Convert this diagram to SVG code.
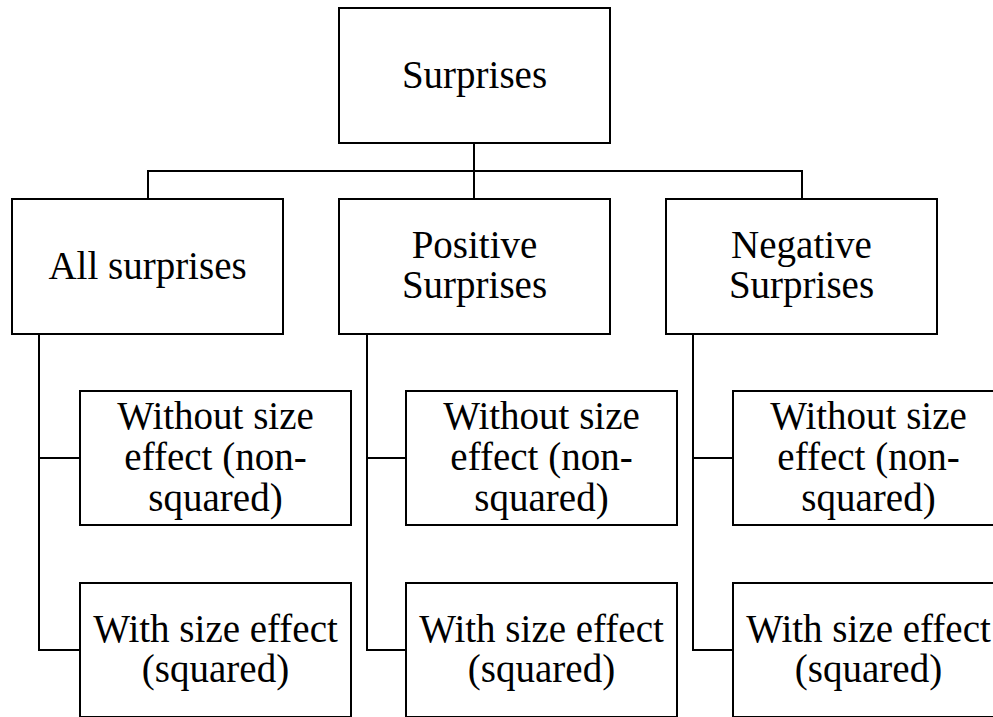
<svg xmlns="http://www.w3.org/2000/svg" width="993" height="717" viewBox="0 0 993 717">
<rect width="993" height="717" fill="#fff"/>
<g id="connectors" fill="none" stroke="#000" stroke-width="2">
<path d="M474 143 V199 M148 199 V171 H802 V199"/>
<path d="M39 334 V650 H80 M39 458 H80"/>
<path d="M367 334 V650 H406 M367 458 H406"/>
<path d="M693 334 V650 H733 M693 458 H733"/>
</g>
<g id="nodes" font-family="Times New Roman, Liberation Serif, serif" font-size="39" text-anchor="middle" fill="#000">
<g id="root"><rect x="339" y="8" width="271" height="135" fill="#fff" stroke="#000" stroke-width="2"/><text x="474.5" y="88">Surprises</text></g>
<g id="all"><rect x="12" y="199" width="271" height="135" fill="#fff" stroke="#000" stroke-width="2"/><text x="147.5" y="279">All surprises</text></g>
<g id="positive"><rect x="339" y="199" width="271" height="135" fill="#fff" stroke="#000" stroke-width="2"/><text x="474.5" y="258">Positive</text><text x="474.5" y="298">Surprises</text></g>
<g id="negative"><rect x="666" y="199" width="271" height="135" fill="#fff" stroke="#000" stroke-width="2"/><text x="801.5" y="258">Negative</text><text x="801.5" y="298">Surprises</text></g>
<g id="all-without"><rect x="80" y="391" width="271" height="134" fill="#fff" stroke="#000" stroke-width="2"/><text x="215.5" y="429">Without size</text><text x="215.5" y="470">effect (non-</text><text x="215.5" y="511">squared)</text></g>
<g id="all-with"><rect x="80" y="583" width="271" height="134" fill="#fff" stroke="#000" stroke-width="2"/><text x="215.5" y="642">With size effect</text><text x="215.5" y="682">(squared)</text></g>
<g id="pos-without"><rect x="406" y="391" width="271" height="134" fill="#fff" stroke="#000" stroke-width="2"/><text x="541.5" y="429">Without size</text><text x="541.5" y="470">effect (non-</text><text x="541.5" y="511">squared)</text></g>
<g id="pos-with"><rect x="406" y="583" width="271" height="134" fill="#fff" stroke="#000" stroke-width="2"/><text x="541.5" y="642">With size effect</text><text x="541.5" y="682">(squared)</text></g>
<g id="neg-without"><rect x="733" y="391" width="271" height="134" fill="#fff" stroke="#000" stroke-width="2"/><text x="868.5" y="429">Without size</text><text x="868.5" y="470">effect (non-</text><text x="868.5" y="511">squared)</text></g>
<g id="neg-with"><rect x="733" y="583" width="271" height="134" fill="#fff" stroke="#000" stroke-width="2"/><text x="868.5" y="642">With size effect</text><text x="868.5" y="682">(squared)</text></g>
</g>
</svg>
